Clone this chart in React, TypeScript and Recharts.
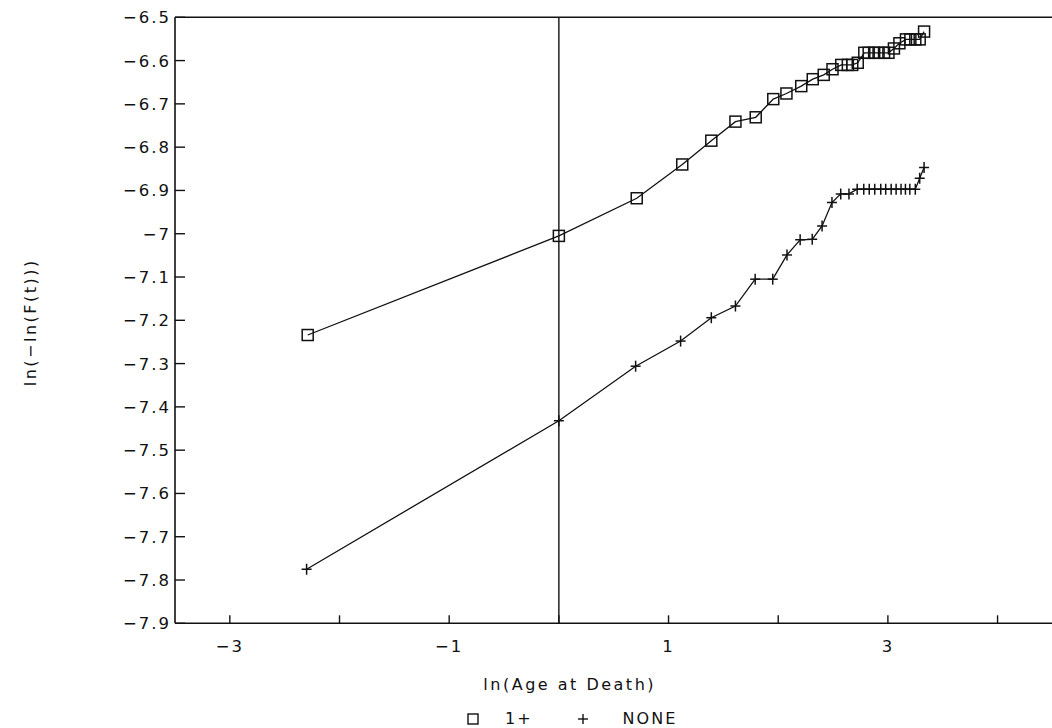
import React from "react";
import { ScatterChart, Scatter, XAxis, YAxis, ReferenceLine, Legend } from "recharts";

const xTicks = [-3, -2, -1, 0, 1, 2, 3, 4];
const xTickLabels = ["−3", "", "−1", "", "1", "", "3", ""];
const yTicks = [-6.5, -6.6, -6.7, -6.8, -6.9, -7, -7.1, -7.2, -7.3, -7.4, -7.5, -7.6, -7.7, -7.8, -7.9];
const yTickLabels = ["−6.5", "−6.6", "−6.7", "−6.8", "−6.9", "−7", "−7.1", "−7.2", "−7.3", "−7.4", "−7.5", "−7.6", "−7.7", "−7.8", "−7.9"];

// series "1+" (squares)
const onePlusX = [-2.29, 0, 0.71, 1.125, 1.39, 1.61, 1.795, 1.955, 2.075, 2.21, 2.315, 2.415, 2.495, 2.575, 2.635, 2.675, 2.725, 2.785, 2.825, 2.875, 2.915, 2.965, 3.005, 3.055, 3.105, 3.165, 3.205, 3.25, 3.29, 3.33];
const onePlusY = [-7.234, -7.005, -6.918, -6.84, -6.785, -6.741, -6.731, -6.689, -6.676, -6.659, -6.643, -6.633, -6.62, -6.61, -6.61, -6.61, -6.605, -6.582, -6.582, -6.582, -6.582, -6.582, -6.582, -6.572, -6.56, -6.551, -6.551, -6.551, -6.551, -6.533];

// series "NONE" (plus signs)
const noneX = [-2.3, 0, 0.7, 1.11, 1.39, 1.61, 1.79, 1.95, 2.08, 2.2, 2.31, 2.4, 2.49, 2.57, 2.645, 2.72, 2.78, 2.83, 2.88, 2.935, 2.98, 3.03, 3.075, 3.12, 3.16, 3.2, 3.25, 3.29, 3.33];
const noneY = [-7.775, -7.432, -7.306, -7.248, -7.194, -7.167, -7.105, -7.105, -7.049, -7.014, -7.013, -6.982, -6.928, -6.908, -6.908, -6.897, -6.897, -6.897, -6.897, -6.897, -6.897, -6.897, -6.897, -6.897, -6.897, -6.897, -6.897, -6.872, -6.847];

const onePlus = onePlusX.map((x, i) => ({ x, y: onePlusY[i] }));
const none = noneX.map((x, i) => ({ x, y: noneY[i] }));

const INK = "#111";
const FONT = "'DejaVu Sans', sans-serif";

const SquareMarker = (props: any) => {
  const { cx, cy } = props;
  if (cx == null || cy == null) return null;
  return <rect x={cx - 5.5} y={cy - 5.5} width={11} height={11} fill="none" stroke={INK} strokeWidth={1.5} />;
};

const PlusMarker = (props: any) => {
  const { cx, cy } = props;
  if (cx == null || cy == null) return null;
  return (
    <g stroke={INK} strokeWidth={1.5}>
      <line x1={cx - 5} y1={cy} x2={cx + 5} y2={cy} />
      <line x1={cx} y1={cy - 5.5} x2={cx} y2={cy + 5.5} />
    </g>
  );
};

// ticks point inward, labels drawn by hand
const XTick = (props: any) => {
  const { x, y, payload } = props;
  const label = xTickLabels[xTicks.indexOf(payload.value)];
  return (
    <g>
      <line x1={x} y1={y} x2={x} y2={y - 8} stroke={INK} strokeWidth={1.4} />
      {label ? (
        <text x={x} y={y + 29} textAnchor="middle" fontFamily={FONT} fontSize={16.5} letterSpacing={2} fill={INK}>
          {label}
        </text>
      ) : null}
    </g>
  );
};

const YTick = (props: any) => {
  const { x, y, payload } = props;
  const idx = yTicks.findIndex((v) => Math.abs(v - payload.value) < 1e-6);
  return (
    <g>
      <line x1={x} y1={y} x2={x + 10} y2={y} stroke={INK} strokeWidth={1.4} />
      <text x={x - 4} y={y} dy="0.36em" textAnchor="end" fontFamily={FONT} fontSize={16.5} letterSpacing={2} fill={INK}>
        {yTickLabels[idx]}
      </text>
    </g>
  );
};

const XLabel = (props: any) => {
  const { viewBox } = props;
  return (
    <text
      x={viewBox.x + viewBox.width / 2 - 44}
      y={viewBox.y + 67}
      textAnchor="middle"
      fontFamily={FONT}
      fontSize={16}
      letterSpacing={2.5}
      fill={INK}
    >
      ln(Age at Death)
    </text>
  );
};

const YLabel = (props: any) => {
  const { viewBox } = props;
  const cx = 36;
  const cy = viewBox.y + viewBox.height / 2 + 2;
  return (
    <text
      x={cx}
      y={cy}
      transform={`rotate(-90, ${cx}, ${cy})`}
      textAnchor="middle"
      fontFamily={FONT}
      fontSize={16}
      letterSpacing={2.5}
      fill={INK}
    >
      ln(−ln(F(t)))
    </text>
  );
};

const LegendContent = () => (
  <div
    style={{
      display: "flex",
      alignItems: "center",
      fontFamily: FONT,
      fontSize: 16,
      letterSpacing: 2,
      color: INK,
      lineHeight: "16px",
      whiteSpace: "nowrap",
    }}
  >
    <svg width={12} height={12} style={{ marginRight: 26 }}>
      <rect x={1} y={1} width={10} height={10} fill="none" stroke={INK} strokeWidth={1.4} />
    </svg>
    <span style={{ marginRight: 44 }}>1+</span>
    <svg width={12} height={12} style={{ marginRight: 34 }}>
      <line x1={1} y1={6} x2={11} y2={6} stroke={INK} strokeWidth={1.4} />
      <line x1={6} y1={1} x2={6} y2={11} stroke={INK} strokeWidth={1.4} />
    </svg>
    <span>NONE</span>
  </div>
);

export default function App() {
  return (
    <div style={{ position: "absolute", left: 0, top: 0, width: 1052, height: 728, overflow: "hidden", background: "#fff" }}>
      <ScatterChart width={1060} height={728} margin={{ top: 17.3, right: 7.6, bottom: 0, left: 0 }}>
        <XAxis
          type="number"
          dataKey="x"
          domain={[-3.5, 4.5]}
          ticks={xTicks}
          interval={0}
          height={104.7}
          tickSize={0}
          tickMargin={0}
          tickLine={false}
          axisLine={{ stroke: INK, strokeWidth: 1.6 }}
          tick={<XTick />}
          label={<XLabel />}
          allowDataOverflow
        />
        <YAxis
          type="number"
          dataKey="y"
          domain={[-7.9, -6.5]}
          ticks={yTicks}
          interval={0}
          width={175}
          tickSize={0}
          tickMargin={0}
          tickLine={false}
          axisLine={{ stroke: INK, strokeWidth: 1.6 }}
          tick={<YTick />}
          label={<YLabel />}
          allowDataOverflow
        />
        <ReferenceLine y={-6.5} stroke={INK} strokeWidth={1.6} />
        <ReferenceLine x={0} stroke={INK} strokeWidth={1.4} />
        <Legend
          layout="horizontal"
          align="center"
          verticalAlign="middle"
          content={<LegendContent />}
          wrapperStyle={{ top: 711, left: 467, width: "auto", height: 16 }}
        />
        <Scatter
          name="1+"
          data={onePlus}
          fill="none"
          line={{ stroke: INK, strokeWidth: 1.3 }}
          lineType="joint"
          shape={(p: any) => <SquareMarker {...p} />}
          isAnimationActive={false}
        />
        <Scatter
          name="NONE"
          data={none}
          fill="none"
          line={{ stroke: INK, strokeWidth: 1.3 }}
          lineType="joint"
          shape={(p: any) => <PlusMarker {...p} />}
          isAnimationActive={false}
        />
      </ScatterChart>
    </div>
  );
}
